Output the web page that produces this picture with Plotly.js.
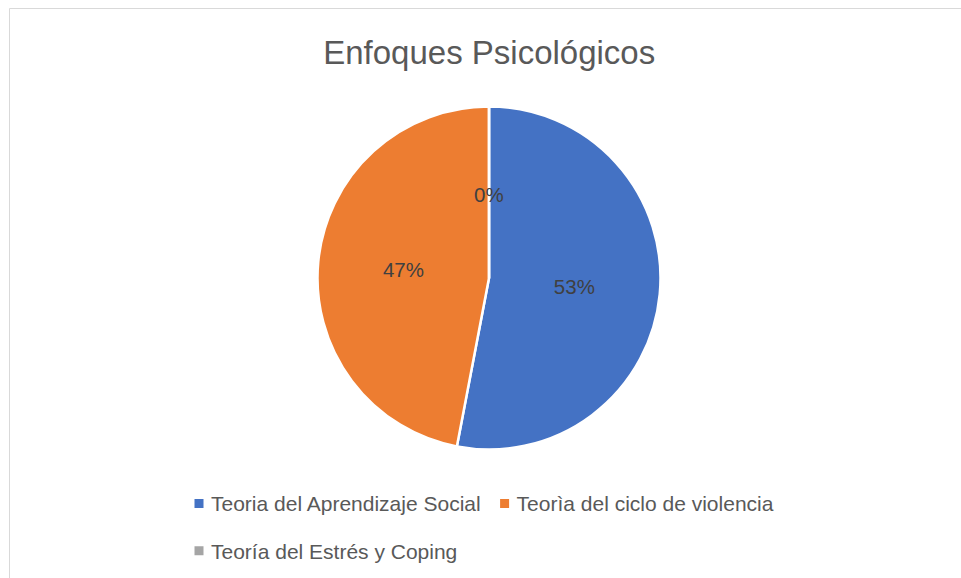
<!DOCTYPE html>
<html>
<head>
<meta charset="utf-8">
<script src="https://cdn.plot.ly/plotly-3.0.1.min.js"></script>
<style>
  html, body { margin: 0; padding: 0; background: #ffffff; }
  #chart { width: 961px; height: 578px; }
</style>
</head>
<body>
<div id="chart"></div>
<script>
const chartTitle = "Enfoques Psicológicos";
const categories = [
  "Teoria del Aprendizaje Social",
  "Teorìa del ciclo de violencia",
  "Teoría del Estrés y Coping"
];
const values = [53, 47, 0];
const colors = ["#4472C4", "#ED7D31", "#A5A5A5"];

const W = 961, H = 578;
const ml = 40, mr = 40, mt = 0, mb = 0;
const pw = W - ml - mr, ph = H - mt - mb;
// pie geometry (pixels)
const cx = 489, cy = 278, R = 171.5;
const FONT = "Liberation Sans, Arial, sans-serif";

const legendNames = categories.map(c => '<span style="font-size:21px">' + c + '</span>');

const trace = {
  type: "pie",
  labels: legendNames,
  values: values,
  sort: false,
  direction: "clockwise",
  rotation: 0,
  marker: { colors: colors, line: { color: "#ffffff", width: 2.5 } },
  textinfo: "percent",
  textposition: "inside",
  insidetextorientation: "horizontal",
  textfont: { family: FONT, size: 20.5, color: "#404040" },
  hoverinfo: "percent",
  domain: {
    x: [(cx - R - ml) / pw, (cx + R - ml) / pw],
    y: [1 - (cy + R - mt) / ph, 1 - (cy - R - mt) / ph]
  },
  showlegend: true
};

// labels for zero-value slices (Plotly does not draw text for them)
const total = values.reduce((a, b) => a + b, 0);
const annotations = [];
let cum = 0;
values.forEach((v, i) => {
  const midFrac = (cum + v / 2) / total;
  cum += v;
  if (v === 0) {
    const ang = midFrac * 2 * Math.PI; // clockwise from 12 o'clock
    const px = cx + 0.485 * R * Math.sin(ang);
    const py = cy - 0.485 * R * Math.cos(ang);
    annotations.push({
      xref: "paper", yref: "paper",
      x: (px - ml) / pw, y: 1 - (py - mt) / ph,
      xanchor: "center", yanchor: "middle",
      text: Math.round(100 * v / total) + "%",
      showarrow: false,
      font: { family: FONT, size: 20.5, color: "#404040" }
    });
  }
});

const layout = {
  width: W,
  height: H,
  margin: { l: ml, r: mr, t: mt, b: mb, pad: 0, autoexpand: false },
  paper_bgcolor: "#ffffff",
  plot_bgcolor: "#ffffff",
  font: { family: FONT, color: "#595959" },
  title: {
    text: chartTitle,
    font: { family: FONT, size: 33, color: "#595959" },
    x: 490 / W,
    xanchor: "center",
    y: 1 - 52 / H,
    yanchor: "middle",
    xref: "paper",
    yref: "container"
  },
  legend: {
    orientation: "h",
    x: (171 - ml) / pw,
    xanchor: "left",
    y: 1 - (469.5 - mt) / ph,
    yanchor: "top",
    entrywidth: 260.6,
    entrywidthmode: "pixels",
    font: { family: FONT, size: 34, color: "#595959" },
    traceorder: "normal",
    bgcolor: "rgba(0,0,0,0)"
  },
  annotations: annotations,
  shapes: [{
    type: "rect",
    xref: "paper", yref: "paper",
    x0: (9.5 - ml) / pw, x1: (W + 20 - ml) / pw,
    y0: -0.1, y1: 1 - (8.5 - mt) / ph,
    line: { color: "#d9d9d9", width: 1 },
    fillcolor: "rgba(0,0,0,0)",
    layer: "below"
  }]
};

Plotly.newPlot("chart", [trace], layout, { displayModeBar: false, staticPlot: true }).then(gd => {
  // smaller legend squares, closer to the text (as in the original)
  const sx = 8, sy = 5.5, h = 5.75;
  gd.querySelectorAll(".legend .legendpoints path").forEach(p => {
    p.setAttribute("d", `M${sx + h},${sy + h}H${sx - h}V${sy - h}H${sx + h}Z`);
  });
});
</script>
</body>
</html>
